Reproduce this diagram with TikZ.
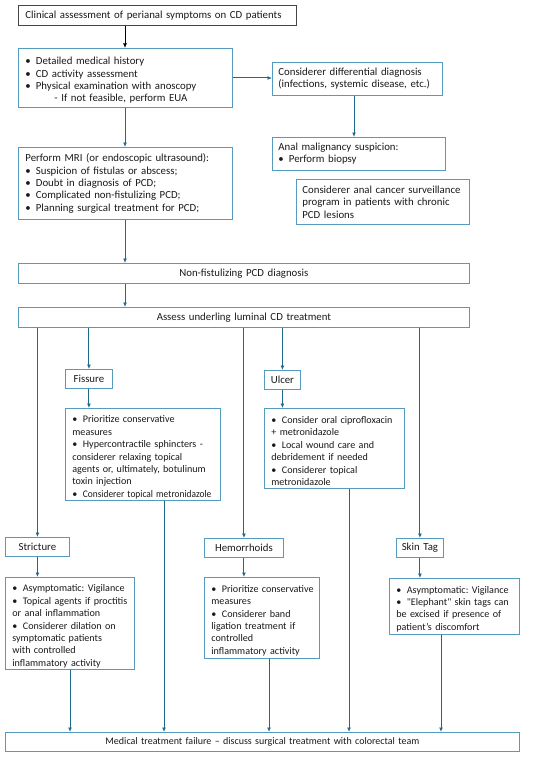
\documentclass[tikz,border=0pt]{standalone}
\usepackage{fontspec}
\setmainfont{Carlito}[Ligatures=TeXOff]
\usetikzlibrary{arrows.meta}
\definecolor{boxc}{RGB}{84,155,190}
\definecolor{linec}{RGB}{31,105,141}
\definecolor{topc}{RGB}{70,70,70}
\definecolor{txtc}{RGB}{25,25,25}
\hyphenpenalty=10000
\exhyphenpenalty=10000
\frenchspacing
\newcommand\bi[1]{\par\hangindent=10.5pt\hangafter=1\noindent\makebox[10.5pt][l]{\textbullet}#1}
\newcommand\ml[1]{\mbox{#1}}
\newcommand\mainfs{\fontsize{10.8}{12.4}\selectfont\frenchspacing}
\newcommand\lowfs{\fontsize{10.1}{12.4}\selectfont\frenchspacing}
\newcommand\finfs{\fontsize{10}{12}\selectfont\frenchspacing}
\tikzset{
  bx/.style={draw=boxc, line width=0.8pt, anchor=north west, inner xsep=7pt, inner ysep=2pt,
    align=left, font=\mainfs, text=txtc},
  lbx/.style={bx, font=\lowfs},
  cbx/.style={bx, align=center},
  arr/.style={draw=linec, line width=1pt, -{Latex[length=4.5pt,width=4pt]}},
}
\begin{document}
\begin{tikzpicture}[x=1pt,y=-1pt]
\useasboundingbox (0,0) rectangle (550,757);
% boxes
\node[bx, draw=topc, minimum width=278pt, minimum height=20pt, text width=264pt] (top) at (18,5)
  {\ml{Clinical assessment of perianal symptoms on CD patients}};
\node[bx, minimum width=214pt, minimum height=59pt, text width=200pt] (hist) at (18,48)
  {\bi{\ml{Detailed medical history}}\bi{\ml{CD activity assessment}}\bi{\ml{Physical examination with anoscopy}}\par\noindent\hspace*{29pt}\ml{- If not feasible, perform EUA}};
\node[bx, inner xsep=6pt, minimum width=170pt, minimum height=33pt, text width=158pt] (diff) at (272,62)
  {\ml{Considerer differential diagnosis}\\\ml{(infections, systemic disease, etc.)}};
\node[bx, inner xsep=6pt, minimum width=173pt, minimum height=33pt, text width=161pt] (mal) at (272,137)
  {\noindent\ml{Anal malignancy suspicion:}\bi{\ml{Perform biopsy}}};
\node[bx, inner xsep=6pt, minimum width=173pt, minimum height=45pt, text width=161pt] (surv) at (296,179)
  {\ml{Considerer anal cancer surveillance}\\\ml{program in patients with chronic}\\\ml{PCD lesions}};
\node[bx, minimum width=214pt, minimum height=72pt, text width=200pt] (mri) at (18,147)
  {\noindent\ml{Perform MRI (or endoscopic ultrasound):}\bi{\ml{Suspicion of fistulas or abscess;}}\bi{\ml{Doubt in diagnosis of PCD;}}\bi{\ml{Complicated non-fistulizing PCD;}}\bi{\ml{Planning surgical treatment for PCD;}}};
\node[cbx, minimum width=451pt, minimum height=20pt, text width=437pt] (nonf) at (18,263)
  {Non-fistulizing PCD diagnosis};
\node[cbx, minimum width=451pt, minimum height=20pt, text width=437pt] (assess) at (18,307)
  {Assess underling luminal CD treatment};
\node[cbx, inner xsep=2pt, minimum width=47pt, minimum height=19pt, text width=43pt] (fis) at (65,369) {Fissure};
\node[lbx, minimum width=155pt, minimum height=92pt, text width=141pt] (fisc) at (65,408)
  {\bi{\ml{Prioritize conservative}\\\ml{measures}}\bi{\ml{Hypercontractile sphincters -}\\\ml{considerer relaxing topical}\\\ml{agents or, ultimately, botulinum}\\\ml{toxin injection}}\bi{\scalebox{0.93}[1]{Considerer topical metronidazole}}};
\node[cbx, inner xsep=2pt, minimum width=36pt, minimum height=19pt, text width=32pt] (ulc) at (264,370) {Ulcer};
\node[lbx, minimum width=140pt, minimum height=80pt, text width=126pt] (ulcc) at (264,408)
  {\bi{\ml{Consider oral ciprofloxacin}\\\ml{+ metronidazole}}\bi{\ml{Local wound care and}\\\ml{debridement if needed}}\bi{\ml{Considerer topical}\\\ml{metronidazole}}};
\node[cbx, inner xsep=2pt, minimum width=64pt, minimum height=19pt, text width=60pt] (str) at (5,537) {Stricture};
\node[lbx, minimum width=129pt, minimum height=92pt, text width=115pt] (strc) at (5,577)
  {\bi{\ml{Asymptomatic: Vigilance}}\bi{\ml{Topical agents if proctitis}\\\ml{or anal inflammation}}\bi{\ml{Considerer dilation on}\\\ml{symptomatic patients}\\\ml{with controlled}\\\ml{inflammatory activity}}};
\node[cbx, inner xsep=2pt, minimum width=79pt, minimum height=19pt, text width=75pt] (hem) at (204,538) {Hemorrhoids};
\node[lbx, minimum width=115pt, minimum height=81pt, text width=101pt] (hemc) at (204,577)
  {\bi{\ml{Prioritize conservative}\\\ml{measures}}\bi{\ml{Considerer band}\\\ml{ligation treatment if}\\\ml{controlled}\\\ml{inflammatory activity}}};
\node[cbx, inner xsep=2pt, minimum width=47pt, minimum height=19pt, text width=43pt] (skin) at (396,538) {\ml{Skin Tag}};
\node[lbx, minimum width=130pt, minimum height=56pt, text width=116pt] (skinc) at (389,578)
  {\bi{\ml{Asymptomatic: Vigilance}}\bi{\ml{"Elephant" skin tags can}\\\ml{be excised if presence of}\\\ml{patient’s discomfort}}};
\node[cbx, font=\finfs, minimum width=514pt, minimum height=19pt, text width=500pt] (fin) at (5,732)
  {Medical treatment failure – discuss surgical treatment with colorectal team};
% connectors
\draw[arr, draw=black] (top.south -| 125,0) -- (hist.north -| 125,0);
\draw[arr] (hist.east |- 0,78) -- (diff.west |- 0,78);
\draw[arr] (diff.south -| 354,0) -- (mal.north -| 354,0);
\draw[arr] (hist.south -| 125,0) -- (mri.north -| 125,0);
\draw[arr] (mri.south -| 125,0) -- (nonf.north -| 125,0);
\draw[arr] (nonf.south -| 125,0) -- (assess.north -| 125,0);
\draw[arr] (assess.south -| str.north) -- (str.north);
\draw[arr] (assess.south -| fis.north) -- (fis.north);
\draw[arr] (assess.south -| hem.north) -- (hem.north);
\draw[arr] (assess.south -| ulc.north) -- (ulc.north);
\draw[arr] (assess.south -| skin.north) -- (skin.north);
\draw[arr] (fis.south) -- (fisc.north -| fis.south);
\draw[arr] (ulc.south) -- (ulcc.north -| ulc.south);
\draw[arr] (str.south) -- (strc.north -| str.south);
\draw[arr] (hem.south) -- (hemc.north -| hem.south);
\draw[arr] (skin.south) -- (skinc.north -| skin.south);
\draw[arr] (strc.south -| 70,0) -- (fin.north -| 70,0);
\draw[arr] (fisc.south -| 164,0) -- (fin.north -| 164,0);
\draw[arr] (hemc.south -| 269,0) -- (fin.north -| 269,0);
\draw[arr] (ulcc.south -| 349,0) -- (fin.north -| 349,0);
\draw[arr] (skinc.south -| 441,0) -- (fin.north -| 441,0);
\end{tikzpicture}
\end{document}
